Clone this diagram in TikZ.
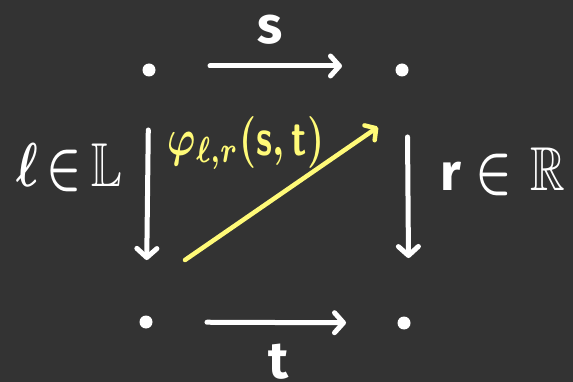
\documentclass[tikz,border=0pt]{standalone}
\usepackage{amssymb}
\usepackage{graphicx}
\usepackage{fontspec}
\setmainfont{Fira Sans}
\usetikzlibrary{arrows.meta}
\definecolor{bg}{RGB}{51,51,51}
\definecolor{yel}{RGB}{255,250,120}
\newcommand{\hugemath}[3]{\scalebox{#1}[#2]{\normalsize\boldmath #3}}
\tikzset{
  dot/.style={circle,fill=white,inner sep=0pt,minimum size=13pt},
  arr/.style={white,line width=5pt,line cap=round,-{Straight Barb[round,length=9pt,width=20pt,line width=5pt]}},
  yarr/.style={yel,line width=4.5pt,line cap=round,-{Straight Barb[round,length=8pt,width=18pt,line width=4.5pt]}},
  lab/.style={white,font=\fontsize{52}{56}\selectfont\bfseries,inner sep=0pt},
}
\begin{document}
\begin{tikzpicture}[x=1pt,y=-1pt]
\fill[bg] (0,0) rectangle (573,382);
\useasboundingbox (0,0) rectangle (573,382);
\node[dot] (a) at (149,70) {};
\node[dot] (b) at (402,70) {};
\node[dot] (c) at (146,322) {};
\node[dot] (d) at (404,323) {};
\coordinate (p) at (185,260);
\coordinate (q) at (378,127);
\draw[arr,shorten <=61pt,shorten >=60pt] ([yshift=4pt]a.center) -- ([yshift=4pt]b.center);
\draw[arr,shorten <=61pt,shorten >=58pt] (c.center) -- (d.center);
\draw[arr,shorten <=60pt,shorten >=62pt] (a.center) -- (c.center);
\draw[arr,shorten <=67pt,shorten >=65pt] ([xshift=5pt]b.center) -- ([xshift=5pt]d.center);
\draw[yarr] (p) -- (q);
\node[lab] (s) at (270,30) {s};
\node[lab,anchor=base,text depth=0pt] (t) at (279,378) {t};
\node[lab] (l) at (69,168) {\hugemath{4.6}{6.2}{$\ell\,{\in}\,\mathbb{L}$}};
\node[lab] (r) at (503,172) {r\hspace{14pt}\hugemath{4.8}{6.2}{${\in}\,\,\mathbb{R}$}};
\node[lab,text=yel] (phi) at (246,143) {\hugemath{3.8}{5.2}{$\varphi_{\ell,r}(\mathsf{s},\mathsf{t})$}};
\end{tikzpicture}
\end{document}
